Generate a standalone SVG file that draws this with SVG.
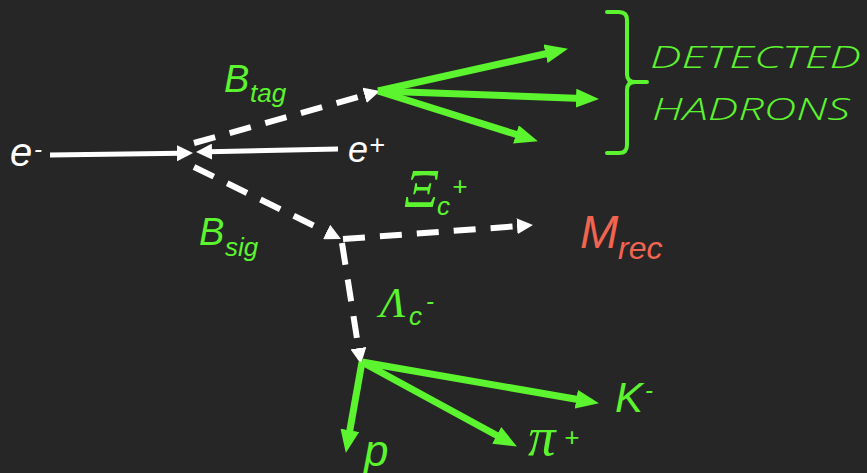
<svg xmlns="http://www.w3.org/2000/svg" width="867" height="473" viewBox="0 0 867 473">
<style>
.bg{fill:#262626}
.w{stroke:#ffffff;stroke-width:5;fill:none}
.wd{stroke:#ffffff;stroke-width:6;fill:none;stroke-dasharray:22 15}
.g{stroke:#5cf42e;stroke-width:7;fill:none}
.br{stroke:#5cf42e;stroke-width:4;fill:none;stroke-linecap:round;stroke-linejoin:round}
.t{font-family:"Liberation Sans",Arial,sans-serif;font-style:italic}
.s{font-family:"Liberation Serif","Times New Roman",serif;font-style:italic}
.gr{fill:#5cf42e}
.wh{fill:#ffffff}
.rd{fill:#f26450}
.hd{font-family:"Open Sans","Liberation Sans",Arial,sans-serif;font-style:italic;font-weight:300;font-size:31px;fill:#5cf42e}
</style>
<defs>
<marker id="wa" markerUnits="userSpaceOnUse" markerWidth="16" markerHeight="16" refX="4" refY="8" orient="auto" viewBox="0 0 16 16">
<path d="M0,0 L16,8 L0,16 z" fill="#ffffff"/>
</marker>
<marker id="ga" markerUnits="userSpaceOnUse" markerWidth="23" markerHeight="19" refX="6" refY="9.5" orient="auto" viewBox="0 0 23 19">
<path d="M0,0 L23,9.5 L0,19 z" fill="#5cf42e"/>
</marker>
</defs>
<rect class="bg" x="0" y="0" width="867" height="473"/>
<g id="connectors">
<line class="w" x1="50" y1="155" x2="181" y2="153.2" marker-end="url(#wa)"/>
<line class="w" x1="338" y1="149" x2="208" y2="151.7" marker-end="url(#wa)"/>
<line class="wd" x1="194" y1="143" x2="368.4" y2="94.2" marker-end="url(#wa)"/>
<line class="wd" x1="194" y1="167" x2="330.2" y2="233.7" marker-end="url(#wa)"/>
<line class="wd" x1="343" y1="239" x2="521" y2="225.9" marker-end="url(#wa)"/>
<line class="wd" x1="342" y1="243" x2="359.1" y2="352.1" marker-end="url(#wa)"/>
<line class="g" x1="378" y1="91" x2="551.4" y2="52.5" marker-end="url(#ga)"/>
<line class="g" x1="378" y1="91" x2="582" y2="98.4" marker-end="url(#ga)"/>
<line class="g" x1="378" y1="91" x2="521.7" y2="136.2" marker-end="url(#ga)"/>
<line class="g" x1="362" y1="362" x2="348.8" y2="436.2" marker-end="url(#ga)"/>
<line class="g" x1="362" y1="362" x2="502" y2="438.3" marker-end="url(#ga)"/>
<line class="g" x1="362" y1="362" x2="582.2" y2="400.3" marker-end="url(#ga)"/>
<path class="br" d="M607,12 L619,12 Q627,12 627,20 L627,74 Q627,82 635,82 L647,82 M635,82 Q627,82 627,90 L627,145 Q627,153 619,153 L607,153"/>
</g>
<g id="e-minus">
<text class="t wh" x="10" y="166" font-size="40">e</text>
<text class="t wh" x="34" y="157" font-size="24">-</text>
</g>
<g id="e-plus">
<text class="t wh" x="348" y="162" font-size="36" font-style="normal">e</text>
<text class="t wh" x="369" y="154" font-size="27" font-style="normal">+</text>
</g>
<g id="b-tag">
<text class="t gr" x="224" y="92" font-size="38">B</text>
<text class="t gr" x="250" y="102" font-size="26">tag</text>
</g>
<g id="b-sig">
<text class="t gr" x="199" y="245" font-size="38">B</text>
<text class="t gr" x="225" y="256" font-size="26">sig</text>
</g>
<g id="detected-hadrons">
<text class="hd" x="650" y="68" textLength="211" lengthAdjust="spacingAndGlyphs">DETECTED</text>
<text class="hd" x="652" y="120" textLength="198" lengthAdjust="spacingAndGlyphs">HADRONS</text>
</g>
<g id="xi-c">
<text class="s gr" x="404" y="207" style="font-size:54px">Ξ</text>
<text class="t gr" x="437" y="215" font-size="26">c</text>
<text class="t gr" x="452" y="195" font-size="26" font-style="normal">+</text>
</g>
<g id="m-rec">
<text class="t rd" x="580" y="248" font-size="46">M</text>
<text class="t rd" x="618" y="259" font-size="32">rec</text>
</g>
<g id="lambda-c">
<text class="s gr" x="380" y="317" style="font-size:42px">Λ</text>
<text class="t gr" x="409" y="325" font-size="26">c</text>
<text class="t gr" x="426" y="309" font-size="24">-</text>
</g>
<g id="k-minus">
<text class="t gr" x="615" y="412" font-size="42">K</text>
<text class="t gr" x="645" y="398" font-size="24">-</text>
</g>
<g id="pi-plus">
<text class="s gr" x="528" y="455" style="font-size:55px">π</text>
<text class="t gr" x="564" y="446" font-size="26" font-style="normal">+</text>
</g>
<g id="proton">
<text class="t gr" x="364" y="466" font-size="44">p</text>
</g>
</svg>
